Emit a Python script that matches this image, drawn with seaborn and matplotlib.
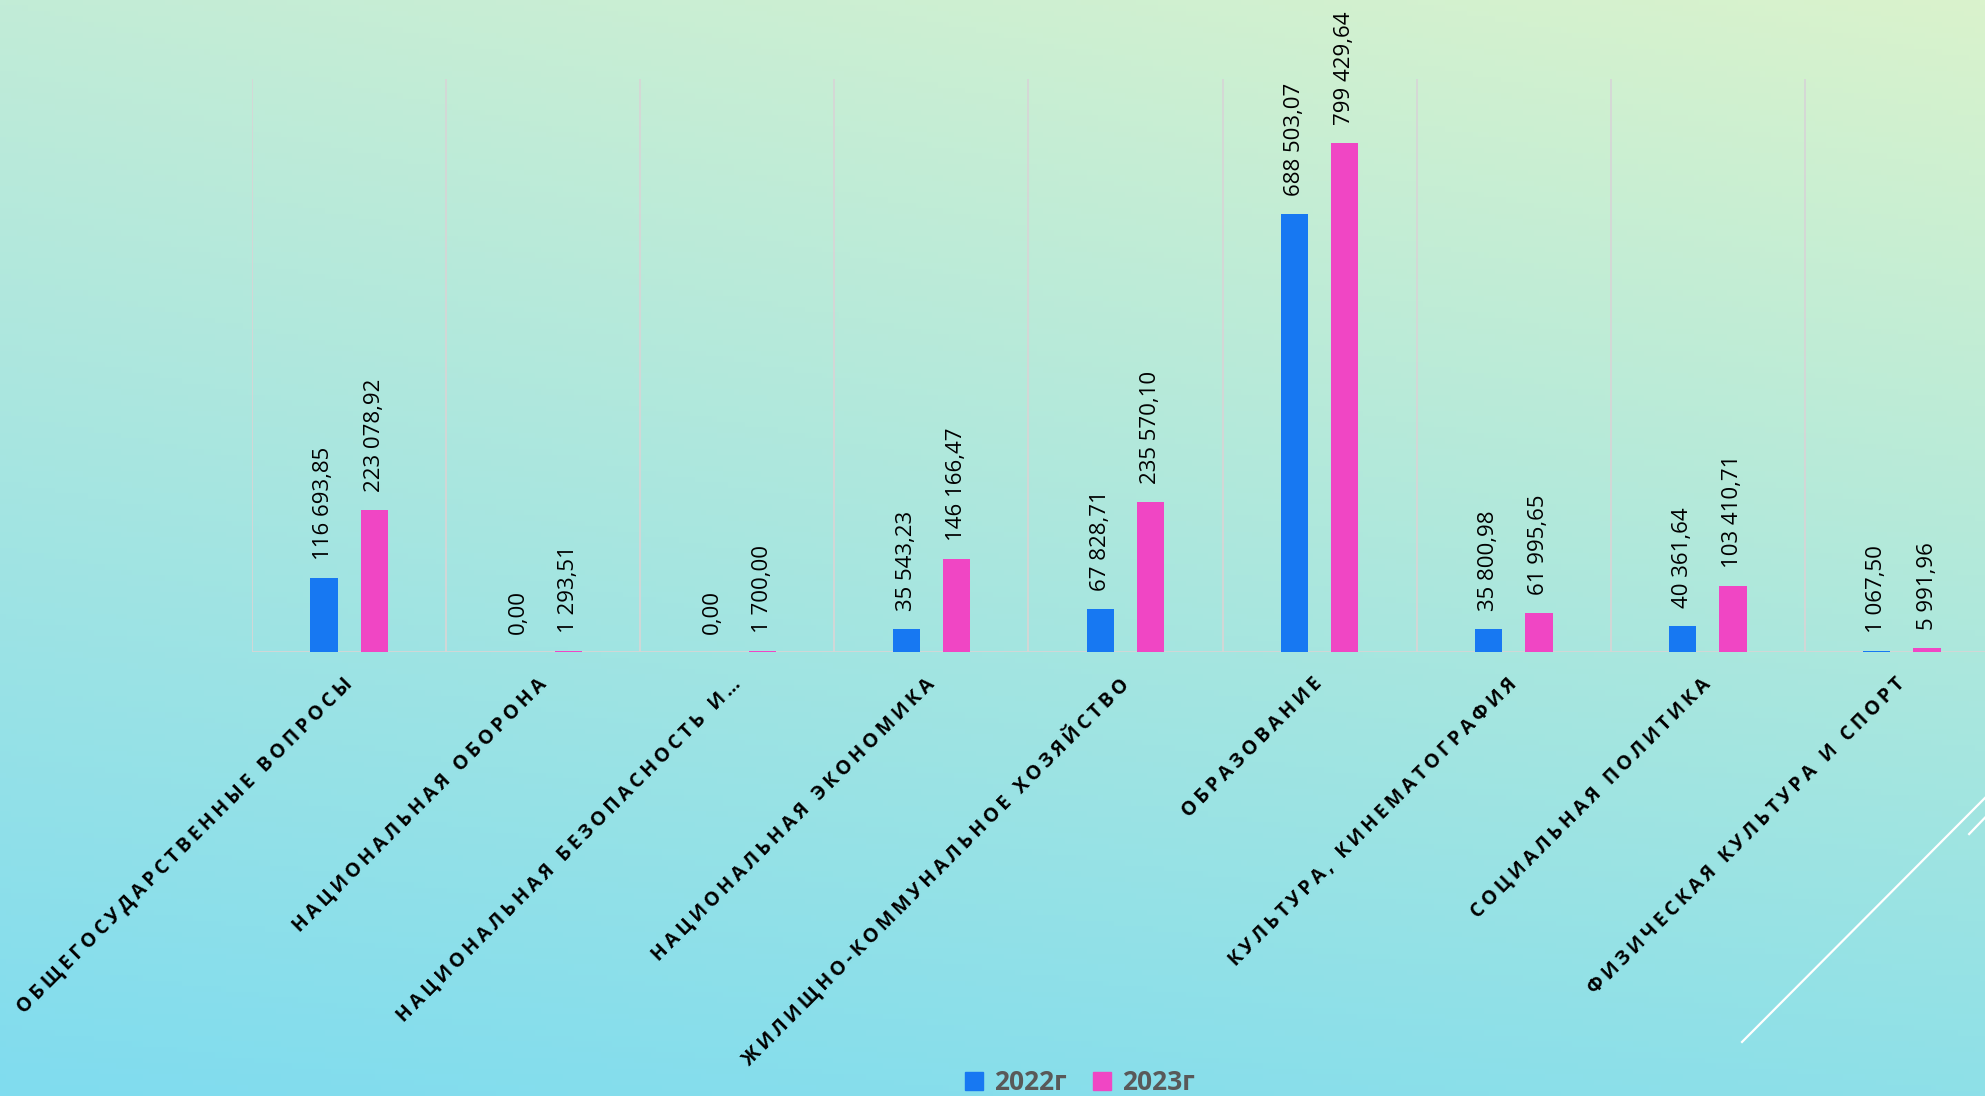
import numpy as np
import pandas as pd
import matplotlib
matplotlib.use('Agg')
import matplotlib.pyplot as plt
import seaborn as sns
from matplotlib.colors import to_rgb
from matplotlib.lines import Line2D
from matplotlib.patches import Patch

# Данные
categories = [
    'ОБЩЕГОСУДАРСТВЕННЫЕ ВОПРОСЫ',
    'НАЦИОНАЛЬНАЯ ОБОРОНА',
    'НАЦИОНАЛЬНАЯ БЕЗОПАСНОСТЬ И…',
    'НАЦИОНАЛЬНАЯ ЭКОНОМИКА',
    'ЖИЛИЩНО-КОММУНАЛЬНОЕ ХОЗЯЙСТВО',
    'ОБРАЗОВАНИЕ',
    'КУЛЬТУРА, КИНЕМАТОГРАФИЯ',
    'СОЦИАЛЬНАЯ ПОЛИТИКА',
    'ФИЗИЧЕСКАЯ КУЛЬТУРА И СПОРТ',
]
values_2022 = [116693.85, 0.00, 0.00, 35543.23, 67828.71, 688503.07, 35800.98, 40361.64, 1067.50]
values_2023 = [223078.92, 1293.51, 1700.00, 146166.47, 235570.10, 799429.64, 61995.65, 103410.71, 5991.96]
years = ['2022г', '2023г']
colors = ['#1778f2', '#f046c4']

df = pd.DataFrame({
    'category': categories * 2,
    'value': values_2022 + values_2023,
    'year': [years[0]] * len(categories) + [years[1]] * len(categories),
})


def fmt(v):
    return f'{v:,.2f}'.replace(',', ' ').replace('.', ',')


def spaced(s):
    # разреженный шрифт подписей категорий
    return '\u2009'.join(s)


fig = plt.figure(figsize=(19.85, 10.96), dpi=100)

# Фон: градиент
bg = fig.add_axes([0, 0, 1, 1], zorder=-1)
tl, tr = np.array(to_rgb('#c2ecd7')), np.array(to_rgb('#daf3cc'))
bl, br = np.array(to_rgb('#80dcef')), np.array(to_rgb('#8ee0e8'))
yy, xx = np.mgrid[0:1:200j, 0:1:360j]
grad = ((1 - yy)[..., None] * ((1 - xx)[..., None] * tl + xx[..., None] * tr)
        + yy[..., None] * ((1 - xx)[..., None] * bl + xx[..., None] * br))
bg.imshow(grad, aspect='auto', extent=[0, 1, 0, 1], origin='upper')
bg.axis('off')

ax = fig.add_axes([0.127, 0.405, 0.880, 0.523])
ax.set_facecolor('none')
sns.barplot(data=df, x='category', y='value', hue='year', palette=colors,
            width=0.52, gap=0.46, saturation=1, legend=False, ax=ax, zorder=3)

for cont, vals in zip(ax.containers, [values_2022, values_2023]):
    ax.bar_label(cont, labels=[fmt(v) for v in vals], rotation=90, padding=13,
                 fontsize=16, family=['Open Sans', 'DejaVu Sans'], color='black')

ax.set_xlim(-0.5, len(categories) - 0.5)
ax.set_ylim(0, 900000)
ax.set_yticks([])
ax.set_xticks(np.arange(-0.5, len(categories), 1), minor=True)
ax.grid(False)
ax.grid(True, which='minor', axis='x', color='#d6d6d6', lw=1.3, zorder=0)
ax.axhline(0, color='#d6d6d6', lw=2, zorder=2)
for s in ax.spines.values():
    s.set_visible(False)
ax.tick_params(which='both', length=0, pad=21)
ax.set_xticks(range(len(categories)))
ax.set_xticklabels([spaced(c) for c in categories], rotation=45, ha='right',
                   va='center', rotation_mode='anchor', fontsize=14,
                   fontweight='bold', family=['Open Sans', 'DejaVu Sans'],
                   color='black')
ax.set_xlabel('')
ax.set_ylabel('')

handles = [Patch(color=c) for c in colors]
fig.legend(handles, years, loc='center', bbox_to_anchor=(0.544, 0.012), ncol=2,
           frameon=False, prop=dict(family='Open Sans', weight='bold', size=19),
           labelcolor='#595959', handlelength=0.7, handleheight=0.7,
           columnspacing=1.0, handletextpad=0.4)

# Декоративные линии
fig.add_artist(Line2D([0.8776, 1.0], [0.0493, 0.272], transform=fig.transFigure,
                      color='white', lw=1.6))
fig.add_artist(Line2D([0.992, 1.0], [0.239, 0.254], transform=fig.transFigure,
                      color='white', lw=1.6))

fig.savefig('out.png', dpi=100)
plt.close()
